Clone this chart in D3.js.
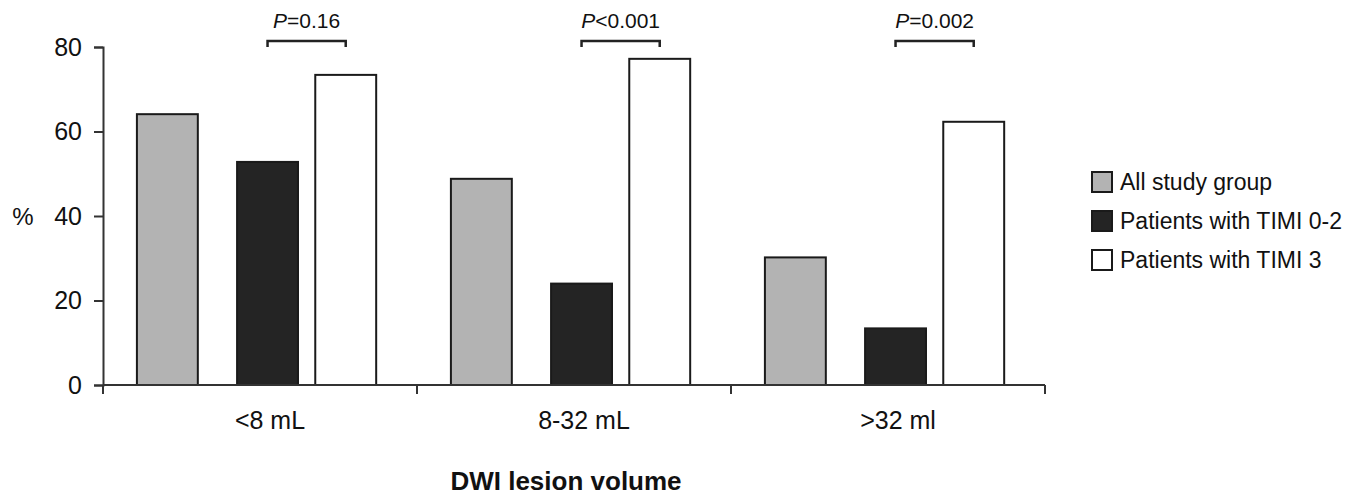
<!DOCTYPE html>
<html>
<head>
<meta charset="utf-8">
<script src="https://cdn.jsdelivr.net/npm/d3@7"></script>
<style>
  html, body { margin: 0; padding: 0; background: #fff; }
  svg { display: block; }
  text { font-family: "Liberation Sans", Arial, sans-serif; fill: #111; }
</style>
</head>
<body>
<svg id="chart" width="1371" height="498"></svg>
<script>
// ---- data ----
const categories = ["<8 mL", "8-32 mL", ">32 ml"];
const seriesNames = ["All study group", "Patients with TIMI 0-2", "Patients with TIMI 3"];
const allStudy = [64.1, 48.8, 30.2];
const timi02 = [52.8, 24.0, 13.4];
const timi3 = [73.4, 77.2, 62.3];
const pLabels = ["=0.16", "<0.001", "=0.002"];
const yTicks = [0, 20, 40, 60, 80];

// ---- layout ----
const svg = d3.select("#chart");
const x = d3.scaleBand().domain(categories).range([103, 1045]).padding(0);
const y = d3.scaleLinear().domain([0, 80]).range([385, 47]);

// position of each series inside a category band (fraction of band)
const seriesOffset = d3.scaleOrdinal().domain(seriesNames).range([0.108, 0.427, 0.676]);
const barFrac = 0.194;
const fills = d3.scaleOrdinal().domain(seriesNames).range(["#b3b3b3", "#242424", "#ffffff"]);

const valuesBySeries = [allStudy, timi02, timi3];
const rows = [];
seriesNames.forEach((s, si) => {
  categories.forEach((c, ci) => rows.push({ series: s, cat: c, value: valuesBySeries[si][ci] }));
});

// bars
svg.append("g").selectAll("rect").data(rows).join("rect")
  .attr("x", d => x(d.cat) + seriesOffset(d.series) * x.bandwidth())
  .attr("width", barFrac * x.bandwidth())
  .attr("y", d => y(d.value))
  .attr("height", d => y(0) - y(d.value))
  .attr("fill", d => fills(d.series))
  .attr("stroke", "#1a1a1a")
  .attr("stroke-width", 2);

// y axis
const yAxis = svg.append("g").attr("transform", "translate(103,0)")
  .call(d3.axisLeft(y).tickValues(yTicks).tickSize(9).tickPadding(12));
yAxis.select(".domain").attr("stroke", "#333").attr("stroke-width", 2);
yAxis.selectAll(".tick line").attr("stroke", "#333").attr("stroke-width", 2);
yAxis.selectAll(".tick text").attr("font-size", 25).attr("fill", "#111")
  .attr("font-family", "Liberation Sans, Arial, sans-serif");

// x axis: ticks at band boundaries
const boundaries = categories.map(c => x(c)).concat([x.range()[1]]);
svg.append("line").attr("x1", 103).attr("x2", x.range()[1]).attr("y1", y(0)).attr("y2", y(0))
  .attr("stroke", "#333").attr("stroke-width", 2);
svg.append("g").selectAll("line").data(boundaries).join("line")
  .attr("x1", d => d).attr("x2", d => d)
  .attr("y1", y(0)).attr("y2", y(0) + 9)
  .attr("stroke", "#333").attr("stroke-width", 2);
svg.append("g").selectAll("text").data(categories).join("text")
  .attr("x", d => x(d) + x.bandwidth() / 2 + 10)
  .attr("y", 429)
  .attr("text-anchor", "middle")
  .attr("font-size", 25)
  .text(d => d);

// axis titles
svg.append("text").attr("x", 23).attr("y", 225).attr("text-anchor", "middle")
  .attr("font-size", 24).text("%");
svg.append("text").attr("x", 566).attr("y", 490).attr("text-anchor", "middle")
  .attr("font-size", 26).attr("font-weight", "bold").text("DWI lesion volume");

// p-value brackets between TIMI 0-2 and TIMI 3
const bw = barFrac * x.bandwidth();
const bl = c => x(c) + seriesOffset(seriesNames[1]) * x.bandwidth() + bw / 2;
const br = c => x(c) + seriesOffset(seriesNames[2]) * x.bandwidth() + bw / 2;
const brY = 41;
const bracket = svg.append("g").selectAll("g").data(categories).join("g");
bracket.append("path")
  .attr("d", c => `M${bl(c)},${brY + 6}V${brY}H${br(c)}V${brY + 6}`)
  .attr("fill", "none").attr("stroke", "#222").attr("stroke-width", 2.5);
bracket.append("text")
  .attr("x", c => (bl(c) + br(c)) / 2)
  .attr("y", 28)
  .attr("text-anchor", "middle")
  .attr("font-size", 21)
  .each(function (c, i) {
    const t = d3.select(this);
    t.append("tspan").attr("font-style", "italic").text("P");
    t.append("tspan").text(pLabels[i]);
  });

// legend
const legend = svg.append("g").selectAll("g").data(seriesNames).join("g")
  .attr("transform", (d, i) => `translate(1092,${172 + i * 39})`);
legend.append("rect").attr("width", 20).attr("height", 20)
  .attr("fill", d => fills(d)).attr("stroke", "#1a1a1a").attr("stroke-width", 2);
legend.append("text").attr("x", 28).attr("y", 18).attr("font-size", 23).text(d => d);
</script>
</body>
</html>
